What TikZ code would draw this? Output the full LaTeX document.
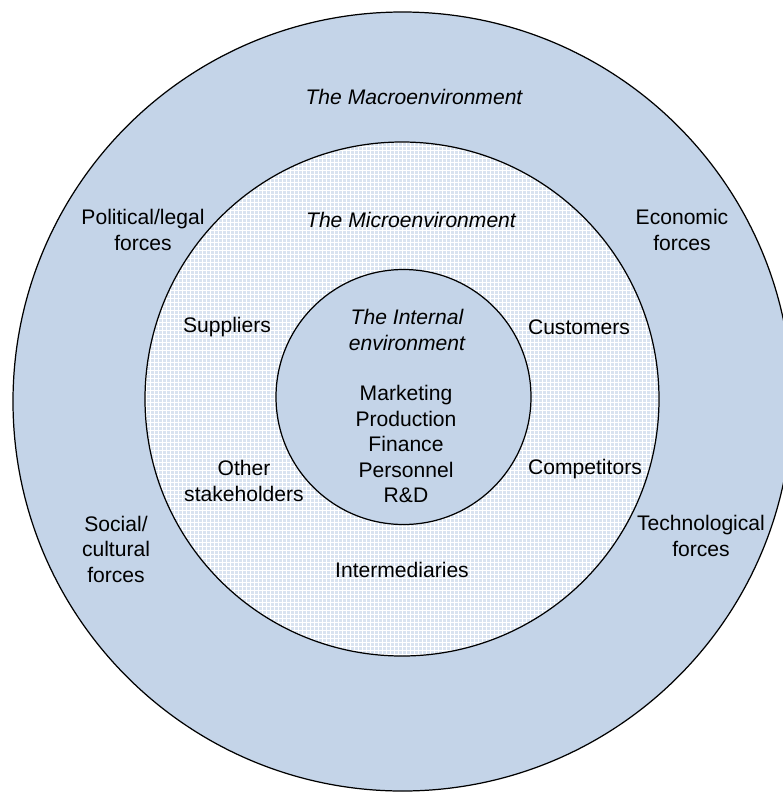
\documentclass[tikz,border=0pt]{standalone}
\usepackage{fontspec}
\setmainfont{Liberation Sans}
\usepackage{tikz}
\definecolor{macroblue}{HTML}{C4D4E8}
\definecolor{microblue}{HTML}{D9E3F0}

\begin{document}
\begin{tikzpicture}[x=0.02cm, y=-0.02cm,
  every node/.style={font=\fontsize{12}{14.5}\selectfont},
  ring/.style={draw=black, line width=0.7pt},
  mesh/.style={white, line width=0.45pt},
  lbl/.style={align=center, inner sep=1pt},
  title/.style={lbl, font=\fontsize{12}{14.5}\selectfont\itshape}]

\useasboundingbox (0,0) rectangle (783,792);
\clip (0,0) rectangle (783,792);

% rings
\fill[white] (0,0) rectangle (783,792);
\draw[ring, fill=macroblue] (402.5,401.5) circle[radius=389.5];
\begin{scope}
  \clip (402,399) circle[radius=257];
  \fill[microblue] (140,140) rectangle (664,664);
  \foreach \g in {142,146,...,662} {
    \draw[mesh] (\g,140) -- (\g,664);
    \draw[mesh] (140,\g) -- (664,\g);
  }
\end{scope}
\draw[ring] (402,399) circle[radius=257];
\draw[ring, fill=macroblue] (403.5,397) circle[radius=127.5];

% macro
\node[title] (macro) at (414,97)  {The Macroenvironment};
\node[lbl] (pol)  at (143,230) {Political/legal\\forces};
\node[lbl] (eco)  at (682,230) {Economic\\forces};
\node[lbl] (soc)  at (116,549) {Social/\\cultural\\forces};
\node[lbl] (tec)  at (701,536) {Technological\\forces};

% micro
\node[title] (micro) at (411,220) {The Microenvironment};
\node[lbl] (sup)  at (227,327) {Suppliers};
\node[lbl] (cus)  at (579,327) {Customers};
\node[lbl] (oth)  at (244,481) {Other\\stakeholders};
\node[lbl] (com)  at (585,469) {Competitors};
\node[lbl] (int)  at (402,570) {Intermediaries};

% internal
\node[title] (inner) at (407,330) {The Internal\\environment};
\node[lbl] (func) at (406,444) {Marketing\\Production\\Finance\\Personnel\\R\&D};
\end{tikzpicture}
\end{document}
